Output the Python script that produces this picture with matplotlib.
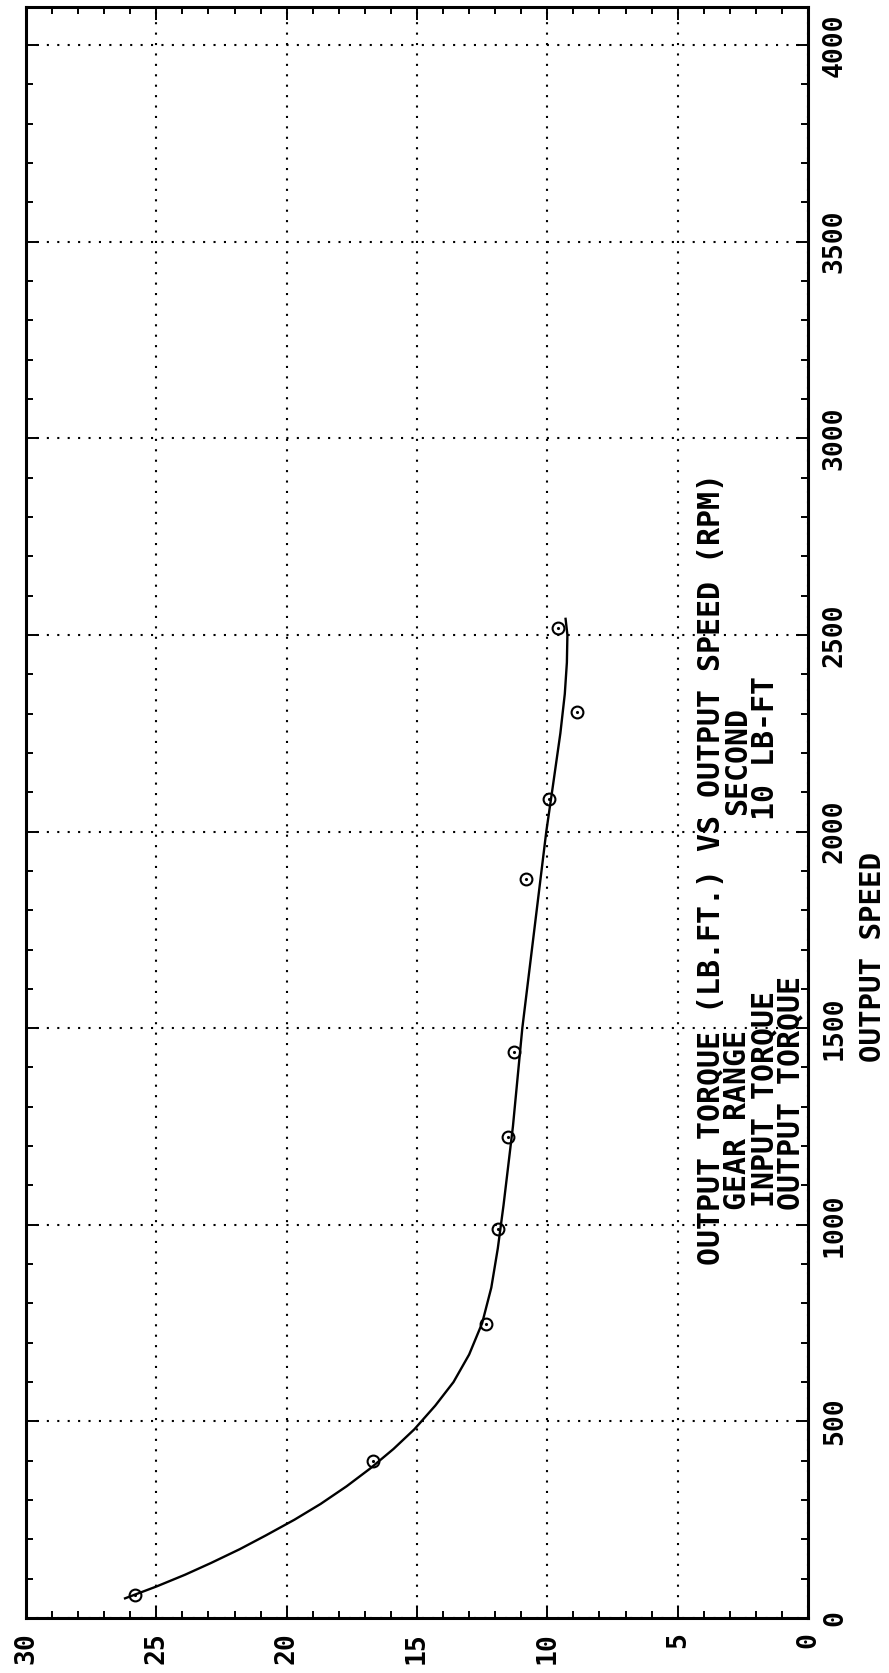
import matplotlib
matplotlib.use("Agg")
import matplotlib.pyplot as plt
from matplotlib.ticker import MultipleLocator

# measured test points (torque lb-ft, output speed rpm)
point_torque = [25.8, 16.7, 12.35, 11.9, 11.5, 11.27, 10.8, 9.92, 8.85, 9.6]
point_speed = [59, 400, 747, 990, 1222, 1439, 1880, 2082, 2304, 2518]

# hand-drawn fit curve
curve_torque = [26.2, 25.0, 23.9, 22.9, 21.8, 20.8, 19.7, 18.7, 17.7, 16.8,
                15.9, 15.1, 14.3, 13.6, 13.0, 12.5, 12.15, 11.9, 11.68, 11.32,
                10.96, 10.5, 10.04, 9.8, 9.5, 9.33, 9.25, 9.23, 9.3]
curve_speed = [50, 80, 110, 140, 175, 210, 250, 290, 335, 380,
               430, 480, 540, 600, 670, 750, 840, 940, 1050, 1250,
               1500, 1750, 2000, 2110, 2250, 2350, 2430, 2500, 2541]

torque_ticks = [0, 5, 10, 15, 20, 25, 30]
speed_ticks = [0, 500, 1000, 1500, 2000, 2500, 3000, 3500, 4000]

title_line = "OUTPUT TORQUE (LB.FT.) VS OUTPUT SPEED (RPM)"
info_labels = ["GEAR RANGE", "INPUT TORQUE", "OUTPUT TORQUE"]
info_values = ["SECOND", "10 LB-FT", ""]

W, H = 889, 1673
FONT = "DejaVu Sans Mono"

fig = plt.figure(figsize=(W / 100, H / 100), dpi=100)
ax = fig.add_axes([26 / W, 1 - 1618 / H, (808 - 26) / W, (1618 - 7) / H])

# rotated layout: torque runs right-to-left, speed bottom-to-top
ax.set_xlim(30, 0)
ax.set_ylim(0, 4097)

ax.plot(curve_torque, curve_speed, color="black", lw=1.7, zorder=3)
ax.plot(point_torque, point_speed, "o", ms=8.5, mfc="none", mec="black",
        mew=1.5, zorder=4)
ax.plot(point_torque, point_speed, ".", ms=2.5, color="black", zorder=4)

ax.set_xticks(torque_ticks)
ax.set_yticks(speed_ticks)
ax.xaxis.set_minor_locator(MultipleLocator(1))
ax.yaxis.set_minor_locator(MultipleLocator(100))
ax.set_xticklabels([str(t) for t in torque_ticks], rotation=90,
                   family=FONT, weight="bold", fontsize=19)
ax.set_yticklabels([str(s) for s in speed_ticks], rotation=90,
                   family=FONT, weight="bold", fontsize=19, va="center")

ax.tick_params(axis="both", which="both", direction="in", top=True,
               bottom=True, left=True, right=True, width=1.4)
ax.tick_params(axis="y", labelleft=False, labelright=True, pad=10)
ax.tick_params(axis="x", pad=10)
ax.tick_params(which="major", length=9)
ax.tick_params(which="minor", length=5)

ax.grid(True, which="major", color="black", lw=1.5, ls=(0, (1, 4)))
for s in ax.spines.values():
    s.set_linewidth(2.2)

# header block, written as on the plotter output
def ftext(px, py, s, size=21.5):
    fig.text(px / W, 1 - py / H, s, rotation=90, rotation_mode="anchor",
             ha="left", va="center", family=FONT, weight="bold", fontsize=size)

ftext(711, 1265, title_line)
line_x = [738, 765, 791]
label_start = [1210, 1207, 1210]
value_start = [815, 820, 0]
for lx, ls, vs, lab, val in zip(line_x, label_start, value_start, info_labels, info_values):
    ftext(lx, ls, lab)
    if val:
        ftext(lx, vs, val)

ftext(873, 1062, "OUTPUT SPEED", size=21)

fig.savefig("out.png", dpi=100, facecolor="white")
